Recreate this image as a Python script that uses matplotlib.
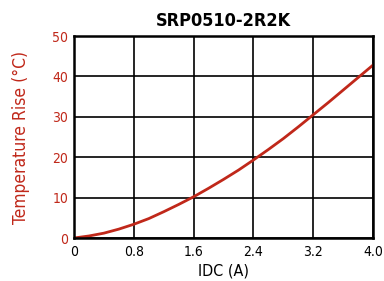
import numpy as np
import matplotlib
matplotlib.use('Agg')
import matplotlib.pyplot as plt

plt.rcParams['font.family'] = ['DejaVu Sans']
plt.rcParams['font.stretch'] = 'condensed'

title = 'SRP0510-2R2K'
idc = [0, 0.2, 0.4, 0.6, 0.8, 1.0, 1.2, 1.4, 1.6, 1.8, 2.0, 2.2, 2.4, 2.6, 2.8, 3.0, 3.2, 3.4, 3.6, 3.8, 4.0]
rise = [0, 0.5, 1.2, 2.2, 3.4, 4.8, 6.5, 8.3, 10.2, 12.3, 14.5, 16.8, 19.3, 21.9, 24.6, 27.5, 30.5, 33.5, 36.6, 39.7, 42.8]
xticks = [0, 0.8, 1.6, 2.4, 3.2, 4.0]
xlabels = ['0', '0.8', '1.6', '2.4', '3.2', '4.0']
yticks = [0, 10, 20, 30, 40, 50]

red = '#c0281a'

fig = plt.figure(figsize=(3.84, 2.81), dpi=100)
ax = fig.add_axes([74/384, 1-238/281, 299/384, 202/281])
ax.plot(idc, rise, color=red, lw=2)
ax.set_xlim(0, 4.0)
ax.set_ylim(0, 50)
ax.set_xticks(xticks)
ax.set_xticklabels(xlabels)
ax.set_yticks(yticks)
ax.grid(True, color='black', lw=1.2)
ax.set_axisbelow(True)
for s in ax.spines.values():
    s.set_linewidth(1.8)
ax.tick_params(length=0, labelsize=10, pad=5)
ax.tick_params(axis='y', labelcolor=red, pad=4)
ax.set_xlabel('IDC (A)', fontsize=11.5, labelpad=3)
ax.set_ylabel('Temperature Rise (°C)', fontsize=12.5, color=red, labelpad=16)
ax.set_title(title, fontsize=13, fontweight='bold', pad=7)

fig.savefig('out.png', dpi=100)
